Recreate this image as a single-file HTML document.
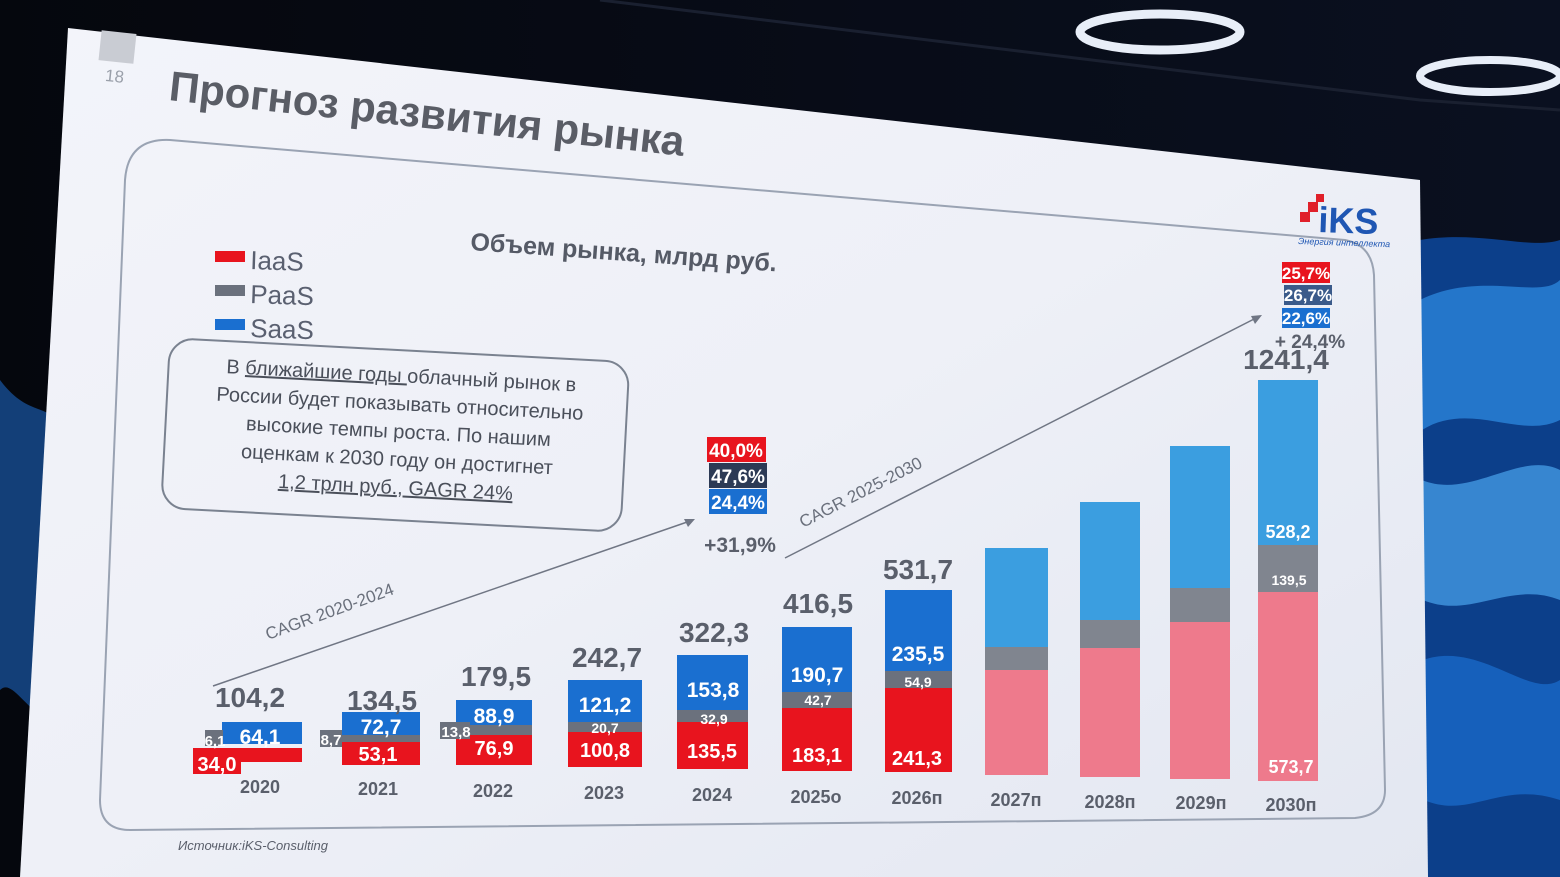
<!DOCTYPE html>
<html><head><meta charset="utf-8"><style>
html,body{margin:0;padding:0;background:#05070d;}
svg{display:block}
text{font-family:"Liberation Sans","DejaVu Sans",sans-serif;}
</style></head><body>
<svg width="1560" height="877" viewBox="0 0 1560 877" xmlns="http://www.w3.org/2000/svg">
<defs>
<linearGradient id="bg" x1="0" y1="0" x2="1" y2="0">
<stop offset="0" stop-color="#05070d"/><stop offset="1" stop-color="#0a1020"/></linearGradient>
<linearGradient id="sl" x1="0" y1="0" x2="1" y2="1">
<stop offset="0" stop-color="#f3f4fa"/><stop offset="0.5" stop-color="#eef0f7"/><stop offset="1" stop-color="#e3e7f1"/></linearGradient>
</defs>
<rect width="1560" height="877" fill="url(#bg)"/>
<path d="M1420 240 C1480 230 1530 250 1560 240 L1560 877 L1425 877 Z" fill="#0c3f8a"/>
<path d="M1420 300 C1480 270 1540 300 1560 280 L1560 420 C1520 440 1470 400 1422 430 Z" fill="#2f8fe6" opacity="0.7"/>
<path d="M1422 480 C1470 500 1520 450 1560 470 L1560 600 C1510 580 1470 620 1423 600 Z" fill="#55b6ff" opacity="0.6"/>
<path d="M1423 660 C1480 640 1530 700 1560 680 L1560 800 C1500 780 1470 820 1424 800 Z" fill="#1b6fd0" opacity="0.7"/>
<path d="M0 380 C30 420 50 400 60 430 L45 720 C20 700 10 680 0 690 Z" fill="#1d66c0" opacity="0.6"/>
<ellipse cx="1160" cy="32" rx="80" ry="18" fill="none" stroke="#e8eef8" stroke-width="9"/>
<ellipse cx="1490" cy="76" rx="70" ry="16" fill="none" stroke="#e8eef8" stroke-width="8"/>
<path d="M600 0 L1420 100 L1560 110" stroke="#1a2030" stroke-width="3" fill="none"/>
<polygon points="68,28 1420,180 1428,877 20,877" fill="url(#sl)"/>
<rect x="100" y="32" width="35" height="30" fill="#c9ccd3" transform="rotate(6 117 47)"/>
<text x="105" y="82" font-size="17" fill="#9aa0aa" transform="rotate(6 115 78)">18</text>
<text x="168" y="100" font-size="42" font-weight="bold" fill="#5a5d66" transform="rotate(6.2 168 100)">Прогноз развития рынка</text>
<path d="M170 140 L1345 240 Q1372 245 1374 275 L1385 790 Q1385 815 1355 818 L130 830 Q100 830 100 800 L125 180 Q128 138 170 140 Z" fill="none" stroke="#9aa3b3" stroke-width="2"/>
<text x="1318" y="232" font-size="36" font-weight="bold" fill="#1f56b3" transform="rotate(2 1318 232)">iKS</text>
<rect x="1300" y="212" width="10" height="10" fill="#e0202a"/><rect x="1308" y="202" width="10" height="10" fill="#e0202a"/><rect x="1316" y="194" width="8" height="8" fill="#e0202a"/>
<text x="1298" y="244" font-size="9" font-style="italic" fill="#1f56b3" transform="rotate(2 1298 244)">Энергия интеллекта</text>
<rect x="215" y="251" width="30" height="11" fill="#e8141e"/>
<text x="250" y="269" font-size="26" fill="#5a6070" transform="rotate(2 250 269)">IaaS</text>
<rect x="215" y="285" width="30" height="11" fill="#6b717d"/>
<text x="250" y="303" font-size="26" fill="#5a6070" transform="rotate(2 250 303)">PaaS</text>
<rect x="215" y="319" width="30" height="11" fill="#1a6fd0"/>
<text x="250" y="337" font-size="26" fill="#5a6070" transform="rotate(2 250 337)">SaaS</text>
<text x="470" y="250" font-size="25" font-weight="bold" fill="#555a66" transform="rotate(4 470 250)">Объем рынка, млрд руб.</text>
<g transform="rotate(3 395 440)">
<rect x="165" y="350" width="460" height="170" rx="24" fill="none" stroke="#7a8290" stroke-width="2"/>
<g font-size="20" fill="#4a4f5a" text-anchor="middle">
<text x="398" y="382">В <tspan text-decoration="underline">ближайшие годы </tspan>облачный рынок в</text>
<text x="398" y="410">России будет показывать относительно</text>
<text x="398" y="438">высокие темпы роста. По нашим</text>
<text x="398" y="466">оценкам к 2030 году  он достигнет</text>
<text x="398" y="494" text-decoration="underline">1,2 трлн руб., GAGR 24%</text>
</g></g>
<line x1="213" y1="686" x2="693" y2="520" stroke="#707684" stroke-width="1.5"/>
<polygon points="695,519 684,519 688,527" fill="#707684"/>
<line x1="785" y1="558" x2="1260" y2="316" stroke="#707684" stroke-width="1.5"/>
<polygon points="1262,315 1251,316 1255,324" fill="#707684"/>
<text x="268" y="640" font-size="17" fill="#6a707c" transform="rotate(-20 268 640)">CAGR 2020-2024</text>
<text x="803" y="528" font-size="17" fill="#6a707c" transform="rotate(-27 803 528)">CAGR 2025-2030</text>
<g>
<rect x="222" y="722" width="80" height="22" fill="#1a6fd0"/>
<rect x="205" y="730" width="18" height="16" fill="#6b717d"/>
<rect x="193" y="748" width="109" height="14" fill="#e8141e"/>
<rect x="193" y="752" width="48" height="22" fill="#e8141e"/>
<rect x="342" y="712" width="78" height="23" fill="#1a6fd0"/><rect x="342" y="735" width="78" height="7" fill="#6b717d"/><rect x="342" y="742" width="78" height="23" fill="#e8141e"/>
<rect x="320" y="730" width="22" height="17" fill="#6b717d"/>
<rect x="456" y="700" width="76" height="25" fill="#1a6fd0"/><rect x="456" y="725" width="76" height="10" fill="#6b717d"/><rect x="456" y="735" width="76" height="30" fill="#e8141e"/>
<rect x="440" y="722" width="30" height="17" fill="#6b717d"/>
<rect x="568" y="680" width="74" height="42" fill="#1a6fd0"/><rect x="568" y="722" width="74" height="10" fill="#6b717d"/><rect x="568" y="732" width="74" height="35" fill="#e8141e"/>
<rect x="677" y="655" width="71" height="55" fill="#1a6fd0"/><rect x="677" y="710" width="71" height="12" fill="#6b717d"/><rect x="677" y="722" width="71" height="47" fill="#e8141e"/>
<rect x="782" y="627" width="70" height="65" fill="#1a6fd0"/><rect x="782" y="692" width="70" height="16" fill="#6b717d"/><rect x="782" y="708" width="70" height="63" fill="#e8141e"/>
<rect x="885" y="590" width="67" height="81" fill="#1a6fd0"/><rect x="885" y="671" width="67" height="17" fill="#6b717d"/><rect x="885" y="688" width="67" height="84" fill="#e8141e"/>
<rect x="985" y="548" width="63" height="99" fill="#3b9ee0"/><rect x="985" y="647" width="63" height="23" fill="#80858f"/><rect x="985" y="670" width="63" height="105" fill="#ee7a8c"/>
<rect x="1080" y="502" width="60" height="118" fill="#3b9ee0"/><rect x="1080" y="620" width="60" height="28" fill="#80858f"/><rect x="1080" y="648" width="60" height="129" fill="#ee7a8c"/>
<rect x="1170" y="446" width="60" height="142" fill="#3b9ee0"/><rect x="1170" y="588" width="60" height="34" fill="#80858f"/><rect x="1170" y="622" width="60" height="157" fill="#ee7a8c"/>
<rect x="1258" y="380" width="60" height="165" fill="#3b9ee0"/><rect x="1258" y="545" width="60" height="47" fill="#80858f"/><rect x="1258" y="592" width="60" height="189" fill="#ee7a8c"/>
</g>
<g font-weight="bold" fill="#fff" text-anchor="middle">
<text x="217" y="771" font-size="20">34,0</text>
<text x="215" y="746" font-size="15">6,1</text>
<text x="260" y="744" font-size="21">64,1</text>
<text x="378" y="761" font-size="20">53,1</text>
<text x="331" y="745" font-size="15">8,7</text>
<text x="381" y="734" font-size="21">72,7</text>
<text x="494" y="755" font-size="20">76,9</text>
<text x="456" y="737" font-size="15">13,8</text>
<text x="494" y="723" font-size="21">88,9</text>
<text x="605" y="757" font-size="20">100,8</text>
<text x="605" y="733" font-size="14">20,7</text>
<text x="605" y="712" font-size="21">121,2</text>
<text x="712" y="758" font-size="20">135,5</text>
<text x="714" y="724" font-size="14">32,9</text>
<text x="713" y="697" font-size="21">153,8</text>
<text x="817" y="762" font-size="20">183,1</text>
<text x="818" y="705" font-size="14">42,7</text>
<text x="817" y="682" font-size="21">190,7</text>
<text x="917" y="765" font-size="20">241,3</text>
<text x="918" y="687" font-size="14">54,9</text>
<text x="918" y="661" font-size="21">235,5</text>
<text x="1291" y="773" font-size="18">573,7</text>
<text x="1289" y="585" font-size="14">139,5</text>
<text x="1288" y="538" font-size="18">528,2</text>
</g>
<g font-weight="bold" fill="#5a5f6b" text-anchor="middle" font-size="28">
<text x="250" y="707">104,2</text><text x="382" y="710">134,5</text><text x="496" y="686">179,5</text>
<text x="607" y="667">242,7</text><text x="714" y="642">322,3</text><text x="818" y="613">416,5</text>
<text x="918" y="579">531,7</text><text x="1286" y="369">1241,4</text>
</g>
<g font-weight="bold" fill="#5a5f6b" text-anchor="middle" font-size="18">
<text x="260" y="793">2020</text><text x="378" y="795">2021</text><text x="493" y="797">2022</text>
<text x="604" y="799">2023</text><text x="712" y="801">2024</text><text x="816" y="803">2025о</text>
<text x="917" y="804">2026п</text><text x="1016" y="806">2027п</text><text x="1110" y="808">2028п</text>
<text x="1201" y="809">2029п</text><text x="1291" y="811">2030п</text>
</g>
<g font-weight="bold" font-size="19" fill="#fff" text-anchor="middle">
<rect x="707" y="437" width="59" height="25" fill="#e8141e"/><text x="736" y="457">40,0%</text>
<rect x="709" y="463" width="58" height="25" fill="#2c3a55"/><text x="738" y="483">47,6%</text>
<rect x="709" y="489" width="58" height="25" fill="#1a6fd0"/><text x="738" y="509">24,4%</text>
<rect x="1282" y="262" width="48" height="21" fill="#e8141e"/><text x="1306" y="279" font-size="17">25,7%</text>
<rect x="1284" y="285" width="48" height="20" fill="#3a5a8a"/><text x="1308" y="301" font-size="17">26,7%</text>
<rect x="1282" y="308" width="48" height="20" fill="#1a6fd0"/><text x="1306" y="324" font-size="17">22,6%</text>
</g>
<text x="740" y="552" font-size="21" font-weight="bold" fill="#5a5f6b" text-anchor="middle">+31,9%</text>
<text x="1310" y="348" font-size="19" font-weight="bold" fill="#5a5f6b" text-anchor="middle">+ 24,4%</text>
<text x="178" y="850" font-size="13" font-style="italic" fill="#5a5f6b">Источник:iKS-Consulting</text>
</svg>
</body></html>
